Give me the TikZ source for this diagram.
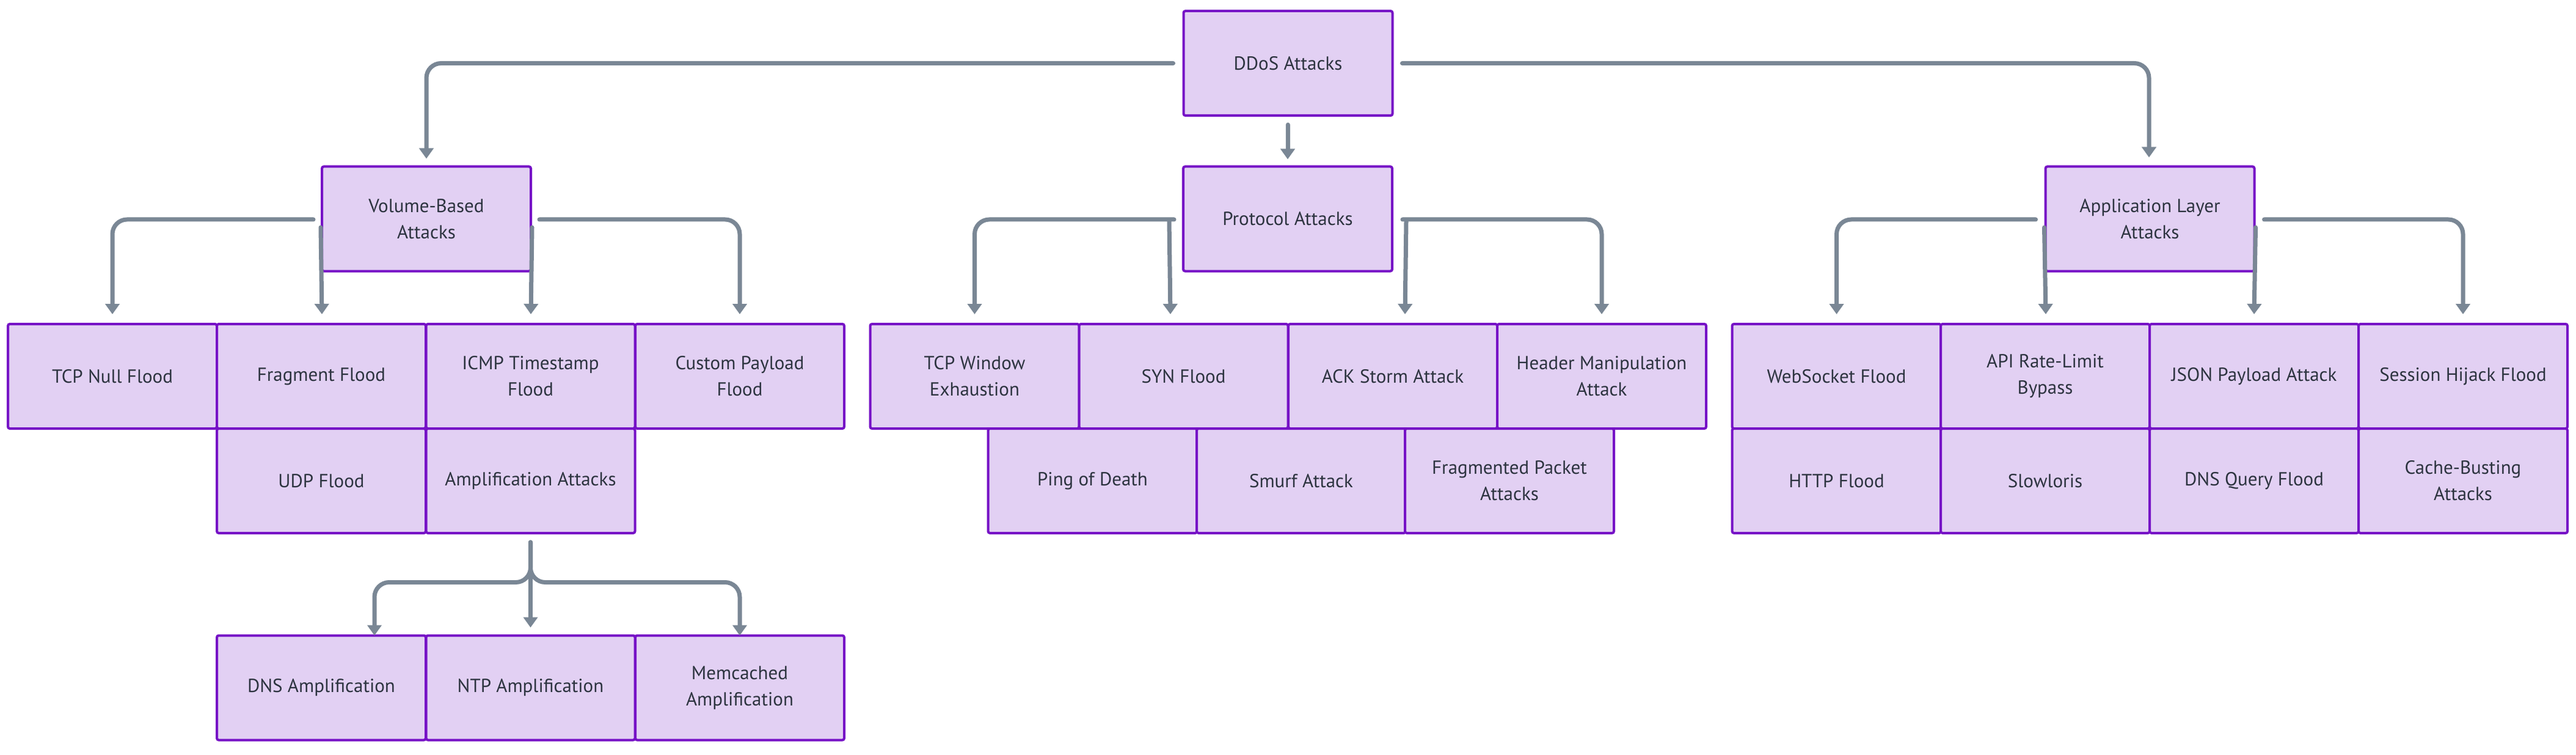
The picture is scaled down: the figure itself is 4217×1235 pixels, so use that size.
\documentclass[tikz,border=0pt]{standalone}
\usepackage{fontspec}
\setmainfont{PT Sans}
\usetikzlibrary{arrows.meta,calc}
\definecolor{boxfill}{HTML}{E2D0F3}
\definecolor{boxline}{HTML}{7612C6}
\definecolor{edgecol}{HTML}{7A8795}
\definecolor{txt}{HTML}{2D3440}
\begin{document}
\begin{tikzpicture}[x=0.5pt,y=-0.5pt,
 box/.style={rectangle, rounded corners=1.5pt, draw=boxline, fill=boxfill, line width=2pt,
   minimum width=171pt, minimum height=85.5pt, inner sep=0pt, align=center, text=txt,
   font=\fontsize{15.5pt}{21.5pt}\selectfont},
 edge/.style={draw=edgecol, line width=3.5pt, line cap=round, rounded corners=12pt,
   -{Triangle[width=11.5pt,length=8.5pt]}}]
\fill[white] (0,0) rectangle (4217,1235);
\useasboundingbox (0,0) rectangle (4217,1235);
% level 0
\node[box] (ddos) at (2108.5,103.5) {DDoS Attacks};
% level 1
\node[box] (volume) at (698,358) {Volume-Based\\Attacks};
\node[box] (protocol) at (2108,358) {Protocol Attacks};
\node[box] (app) at (3519.5,358) {Application Layer\\Attacks};
% row 1
\node[box] (tcpnull) at (184,615.5) {TCP Null Flood};
\node[box] (fragment) at (526,615.5) {Fragment Flood};
\node[box] (icmp) at (868.5,615.5) {ICMP Timestamp\\Flood};
\node[box] (custom) at (1211,615.5) {Custom Payload\\Flood};
\node[box] (tcpwin) at (1595.5,615.5) {TCP Window\\Exhaustion};
\node[box] (syn) at (1937.5,615.5) {SYN Flood};
\node[box] (ack) at (2280,615.5) {ACK Storm Attack};
\node[box] (header) at (2622,615.5) {Header Manipulation\\Attack};
\node[box] (websocket) at (3006.5,615.5) {WebSocket Flood};
\node[box] (api) at (3348,615.5) {API Rate-Limit\\Bypass};
\node[box] (json) at (3690,615.5) {JSON Payload Attack};
\node[box] (session) at (4032,615.5) {Session Hijack Flood};
% row 2
\node[box] (udp) at (526,786.5) {UDP Flood};
\node[box] (amp) at (868.5,786.5) {Amplification Attacks};
\node[box] (ping) at (1788.5,786.5) {Ping of Death};
\node[box] (smurf) at (2130,786.5) {Smurf Attack};
\node[box] (fragpkt) at (2471,786.5) {Fragmented Packet\\Attacks};
\node[box] (http) at (3006.5,786.5) {HTTP Flood};
\node[box] (slowloris) at (3348,786.5) {Slowloris};
\node[box] (dnsq) at (3690,786.5) {DNS Query Flood};
\node[box] (cache) at (4032,786.5) {Cache-Busting\\Attacks};
% row 3
\node[box] (dnsamp) at (526,1125) {DNS Amplification};
\node[box] (ntp) at (868.5,1125) {NTP Amplification};
\node[box] (memcached) at (1211,1125) {Memcached\\Amplification};
% edges from root
\draw[edge] ($(ddos.west)+(-15,0)$) -| ($(volume.north)+(0,-11)$);
\draw[edge] ($(ddos.south)+(-0.5,13)$) -- ($(protocol.north)+(0,-10)$);
\draw[edge] ($(ddos.east)+(14,0)$) -| ($(app.north)+(-1.5,-13)$);
% volume
\draw[edge] ($(volume.west)+(-12,1)$) -| ($(tcpnull.north)+(0,-14)$);
\draw[edge] ($(volume.west)+(0,14)$) -- ($(fragment.north)+(1,-14)$);
\draw[edge] ($(volume.east)+(0,14)$) -- ($(icmp.north)+(0.5,-14)$);
\draw[edge] ($(volume.east)+(12,1)$) -| ($(custom.north)+(0,-14)$);
% protocol
\draw[edge] ($(protocol.west)+(-13,1)$) -| ($(tcpwin.north)+(0,-14)$);
\draw[edge] ($(protocol.west)+(-21,4)$) -- ($(syn.north)+(-21.5,-14)$);
\draw[edge] ($(protocol.east)+(21,4)$) -- ($(ack.north)+(20,-14)$);
\draw[edge] ($(protocol.east)+(15,1)$) -| ($(header.north)+(0,-14)$);
% application
\draw[edge] ($(app.west)+(-14,1)$) -| ($(websocket.north)+(0,-14)$);
\draw[edge] ($(app.west)+(0,14)$) -- ($(api.north)+(1,-14)$);
\draw[edge] ($(app.east)+(0,14)$) -- ($(json.north)+(0,-14)$);
\draw[edge] ($(app.east)+(14,1)$) -| ($(session.north)+(0,-14)$);
% amplification
\draw[edge] ($(amp.south)+(0,13)$) |- ($(dnsamp.north)+(87,-85)$) -- ($(dnsamp.north)+(87,2)$);
\draw[edge] ($(amp.south)+(0,13)$) -- ($(ntp.north)+(0,-11)$);
\draw[edge] ($(amp.south)+(0,13)$) |- ($(memcached.north)+(0,-85)$) -- ($(memcached.north)+(0,2)$);
\end{tikzpicture}
\end{document}
